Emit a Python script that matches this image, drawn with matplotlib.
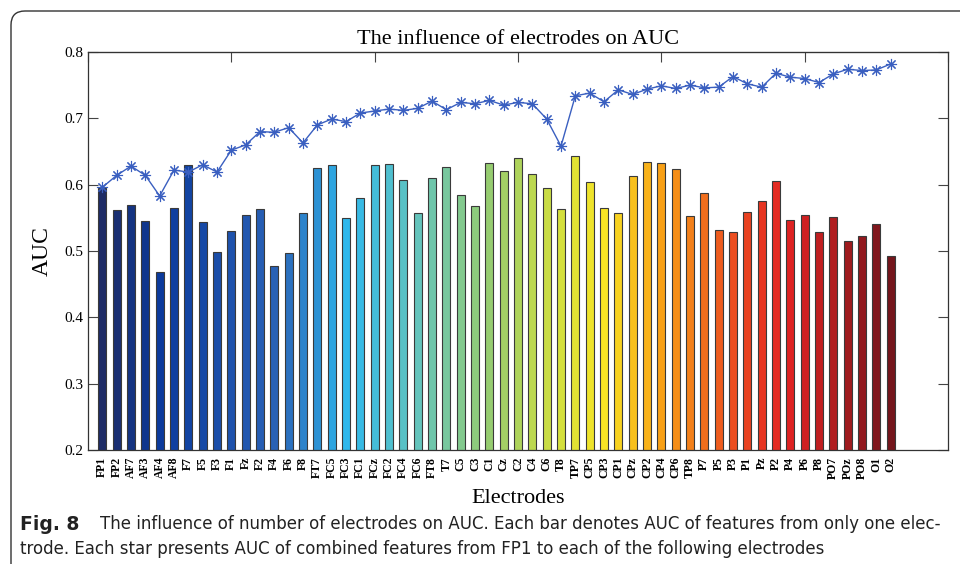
import numpy as np
import matplotlib
matplotlib.use("Agg")
import matplotlib.pyplot as plt
from matplotlib.colors import LinearSegmentedColormap
from matplotlib.patches import FancyBboxPatch
from matplotlib.transforms import IdentityTransform

# Electrode names (x tick labels)
electrodes = ["FP1", "FP2", "AF7", "AF3", "AF4", "AF8", "F7", "F5", "F3", "F1",
              "Fz", "F2", "F4", "F6", "F8", "FT7", "FC5", "FC3", "FC1", "FCz",
              "FC2", "FC4", "FC6", "FT8", "T7", "C5", "C3", "C1", "Cz", "C2",
              "C4", "C6", "T8", "TP7", "CP5", "CP3", "CP1", "CPz", "CP2", "CP4",
              "CP6", "TP8", "P7", "P5", "P3", "P1", "Pz", "P2", "P4", "P6",
              "P8", "PO7", "POz", "PO8", "O1", "O2"]

# AUC of single electrode (bars)
auc_single = [0.595, 0.562, 0.570, 0.545, 0.469, 0.565, 0.629, 0.543, 0.499, 0.530,
              0.554, 0.563, 0.477, 0.497, 0.557, 0.625, 0.629, 0.550, 0.580, 0.629,
              0.631, 0.607, 0.557, 0.610, 0.626, 0.584, 0.568, 0.633, 0.620, 0.640,
              0.616, 0.595, 0.563, 0.643, 0.604, 0.565, 0.558, 0.613, 0.634, 0.632,
              0.624, 0.553, 0.588, 0.532, 0.529, 0.559, 0.576, 0.606, 0.547, 0.555,
              0.528, 0.551, 0.515, 0.522, 0.541, 0.493]

# AUC of combined electrodes FP1..k (stars)
auc_combined = [0.596, 0.614, 0.628, 0.614, 0.583, 0.622, 0.619, 0.630, 0.619, 0.652,
                0.660, 0.680, 0.679, 0.686, 0.663, 0.690, 0.699, 0.695, 0.708, 0.711,
                0.714, 0.712, 0.715, 0.726, 0.713, 0.724, 0.722, 0.727, 0.720, 0.724,
                0.722, 0.699, 0.658, 0.734, 0.738, 0.725, 0.743, 0.736, 0.744, 0.749,
                0.745, 0.750, 0.746, 0.747, 0.763, 0.752, 0.747, 0.768, 0.762, 0.760,
                0.754, 0.767, 0.774, 0.772, 0.773, 0.782]

caption_bold = "Fig. 8"
caption_1 = ("The influence of number of electrodes on AUC. Each bar denotes AUC of "
             "features from only one elec-")
caption_2 = ("trode. Each star presents AUC of combined features from FP1 to each of "
             "the following electrodes")

# colour ramp used for the bars
cmap = LinearSegmentedColormap.from_list("elec", [
    (0.00, "#1e2c66"), (0.07, "#0b3a9c"), (0.22, "#2a62b6"), (0.31, "#2fb8ec"),
    (0.40, "#64c4bc"), (0.49, "#96cc70"), (0.58, "#d4df3c"), (0.635, "#f8e424"),
    (0.71, "#f8a016"), (0.80, "#ec4e20"), (0.87, "#e22222"), (1.00, "#74161c")])

n = len(electrodes)
x = np.arange(1, n + 1)
colors = cmap(np.linspace(0, 1, n))

serif = "Liberation Serif"

fig = plt.figure(figsize=(9.6, 5.64), dpi=100)
ax = fig.add_axes([88 / 960, 1 - 450 / 564, 860 / 960, 398 / 564])

ax.bar(x, auc_single, width=0.55, color=colors, edgecolor="#3a3a3a", linewidth=0.8, zorder=2)
ax.plot(x, auc_combined, color="#3a5fc0", linewidth=1.0, marker=(8, 2, 0),
        markersize=8, markeredgewidth=0.8, markeredgecolor="#3a5fc0", zorder=3)

ax.set_xlim(0, 60)
ax.set_ylim(0.2, 0.8)
ax.set_axisbelow(True)

# electrode names on the bottom, plain ticks every 10 on top
ax.set_xticks(x)
ax.set_xticklabels(electrodes, rotation=90, fontsize=8.5, fontweight="bold", family=serif)
ax.tick_params(axis="x", length=0, pad=5)
top = ax.secondary_xaxis("top")
top.set_xticks(np.arange(0, 61, 10))
top.set_xticklabels([])
top.tick_params(direction="in", length=7, color="#444444")
top.spines["top"].set_color("#333333")

ax.set_yticks(np.arange(0.2, 0.81, 0.1))
ax.set_yticklabels([f"{v:.1f}" for v in np.arange(0.2, 0.81, 0.1)], family=serif, fontsize=11)
ax.tick_params(axis="y", direction="in", right=True, length=7, color="#444444")

for s in ax.spines.values():
    s.set_color("#333333")
    s.set_linewidth(0.9)

ax.set_title("The influence of electrodes on AUC", family=serif, fontsize=16, pad=6)
ax.set_xlabel("Electrodes", family=serif, fontsize=16, labelpad=7)
ax.set_ylabel("AUC", family=serif, fontsize=17, labelpad=8)

# rounded frame around the figure
frame = FancyBboxPatch((11, -20), 1000, 564 - 11 + 20, boxstyle="round,pad=0,rounding_size=14",
                       transform=IdentityTransform(), facecolor="none",
                       edgecolor="#333333", linewidth=1.0)
fig.patches.append(frame)

cap_font = ["DejaVu Sans"]
fig.text(20 / 960, 1 - 524 / 564, caption_bold, fontsize=13.5, fontweight="bold",
         family=cap_font, va="center", color="#222222")
fig.text(100 / 960, 1 - 524 / 564, caption_1, fontsize=12, family=cap_font,
         va="center", color="#222222")
fig.text(20 / 960, 1 - 549 / 564, caption_2, fontsize=12, family=cap_font,
         va="center", color="#222222")

fig.savefig("out.png", dpi=100)
